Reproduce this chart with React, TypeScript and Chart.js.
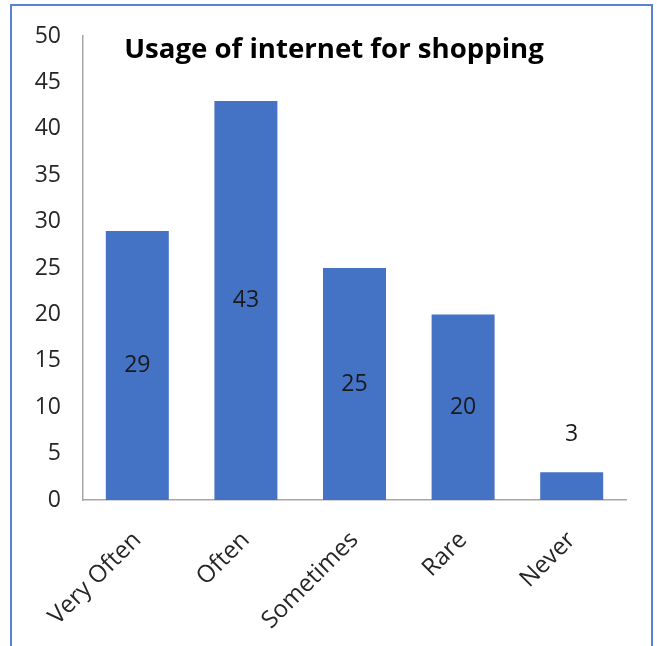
import React, { useEffect, useRef } from "react";
import { Chart, registerables } from "chart.js";

Chart.register(...registerables);

const categories = ["Very Often", "Often", "Sometimes", "Rare", "Never"];
const values = [29, 43, 25, 20, 3];
const titleText = "Usage of internet for shopping";
const yMin = 0;
const yMax = 50;
const yStep = 5;

const FONT = "'Open Sans', 'Liberation Sans', sans-serif";

const titlePlugin = {
  id: "innerTitle",
  afterDraw(chart: any) {
    const ctx = chart.ctx;
    ctx.save();
    ctx.font = `bold 27.6px ${FONT}`;
    ctx.fillStyle = "#000000";
    ctx.textAlign = "center";
    ctx.textBaseline = "middle";
    ctx.fillText(titleText, 334, 50);
    ctx.restore();
  },
};

const labelPlugin = {
  id: "barLabels",
  afterDatasetsDraw(chart: any) {
    const ctx = chart.ctx;
    const meta = chart.getDatasetMeta(0);
    ctx.save();
    ctx.font = `23px ${FONT}`;
    ctx.fillStyle = "#1a1a1a";
    ctx.textAlign = "center";
    ctx.textBaseline = "middle";
    meta.data.forEach((bar: any, i: number) => {
      const v = chart.data.datasets[0].data[i];
      const h = bar.base - bar.y;
      const y = h > 40 ? (bar.y + bar.base) / 2 : bar.y - 38;
      ctx.fillText(String(v), bar.x, y);
    });
    ctx.restore();
  },
};

export default function App() {
  const ref = useRef<HTMLCanvasElement>(null);
  useEffect(() => {
    if (!ref.current) return;
    const chart = new Chart(ref.current, {
      type: "bar",
      data: {
        labels: categories,
        datasets: [
          {
            data: values,
            backgroundColor: "#4472C4",
            barPercentage: 0.58,
            categoryPercentage: 1,
          },
        ],
      },
      options: {
        animation: false,
        responsive: false,
        maintainAspectRatio: false,
        layout: { padding: { top: 36, right: 31, left: 0, bottom: 0 } },
        plugins: { legend: { display: false }, tooltip: { enabled: false }, title: { display: false } },
        scales: {
          x: {
            grid: { display: false, drawTicks: false },
            border: { display: true, color: "#a6a6a6", width: 1.5 },
            ticks: {
              color: "#262626",
              font: { family: FONT, size: 24 },
              minRotation: 45,
              maxRotation: 45,
              padding: 26,
            },
            afterFit: (s: any) => {
              s.height = 146;
            },
          },
          y: {
            min: yMin,
            max: yMax,
            grid: { display: false, drawTicks: false },
            border: { display: true, color: "#a6a6a6", width: 1.5 },
            ticks: {
              stepSize: yStep,
              color: "#262626",
              font: { family: FONT, size: 23 },
              padding: 22,
            },
            afterFit: (s: any) => {
              s.width = 83;
            },
          },
        },
      },
      plugins: [titlePlugin, labelPlugin],
    });
    return () => chart.destroy();
  }, []);

  return (
    <div style={{ position: "absolute", left: 0, top: 0, width: 657, height: 646, overflow: "hidden", background: "#fff" }}>
      <div
        style={{
          position: "absolute",
          left: 10,
          top: 4,
          width: 643,
          height: 700,
          border: "2px solid #5b82d2",
          boxSizing: "border-box",
        }}
      />
      <canvas ref={ref} width={657} height={646} style={{ position: "absolute", left: 0, top: 0 }} />
    </div>
  );
}
